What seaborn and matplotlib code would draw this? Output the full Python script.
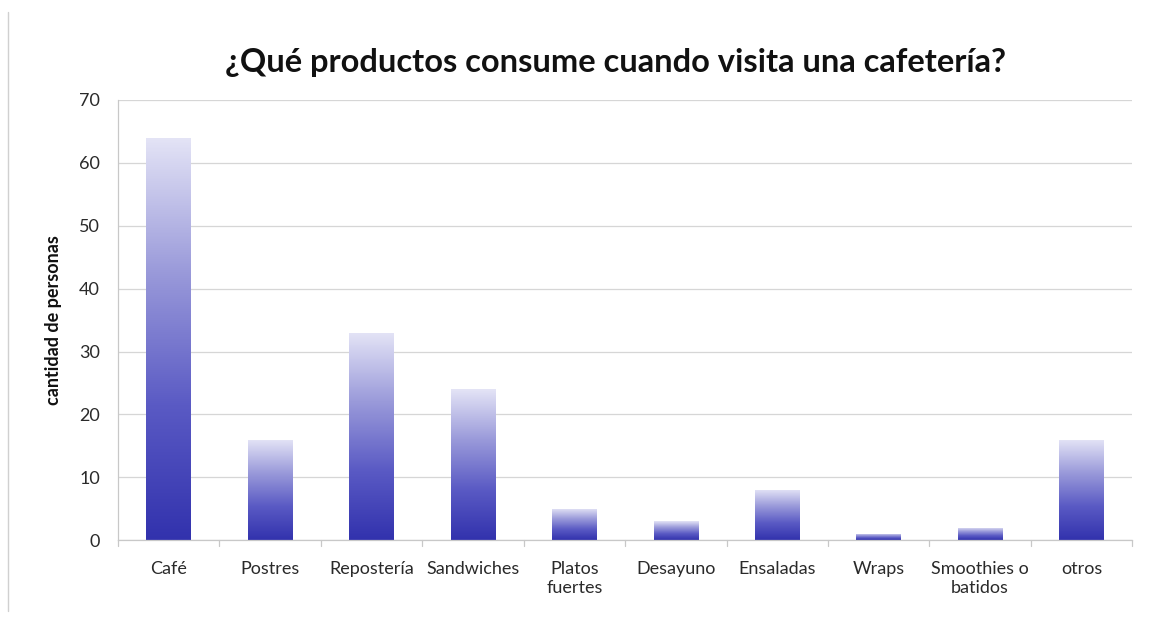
import numpy as np
import pandas as pd
import matplotlib
matplotlib.use("Agg")
import matplotlib.pyplot as plt
from matplotlib.colors import LinearSegmentedColormap
import seaborn as sns

categories = ["Café", "Postres", "Repostería", "Sandwiches", "Platos\nfuertes",
              "Desayuno", "Ensaladas", "Wraps", "Smoothies o\nbatidos", "otros"]
values = [64, 16, 33, 24, 5, 3, 8, 1, 2, 16]
yticks = [0, 10, 20, 30, 40, 50, 60, 70]

df = pd.DataFrame({"producto": categories, "personas": values})

sns.set_theme(style="white")
plt.rcParams["font.family"] = ["Lato", "DejaVu Sans"]

fig = plt.figure(figsize=(11.5, 6.23), dpi=100)
ax = fig.add_axes([0.1026, 0.133, 0.882, 0.7065])

sns.barplot(data=df, x="producto", y="personas", ax=ax, width=0.44,
            color="#5050c0", saturation=1)

ax.set_ylim(0, 70)
ax.set_xlim(-0.5, len(categories) - 0.5)
ax.set_yticks(yticks)
ax.set_yticklabels([str(t) for t in yticks], fontsize=13, color="#2a2a2a")
ax.tick_params(axis="y", length=0, pad=13)
ax.tick_params(axis="x", length=0, pad=15, labelsize=13, labelcolor="#2a2a2a")
for lbl in ax.get_xticklabels():
    lbl.set_linespacing(1.25)
ax.set_xlabel("")
ax.set_ylabel("cantidad de personas", fontsize=13, fontweight="bold",
              color="#111111", labelpad=12)

# light horizontal gridlines
ax.yaxis.grid(True, color="#d6d6d6", linewidth=0.9)
ax.set_axisbelow(True)
for side in ["top", "right"]:
    ax.spines[side].set_visible(False)
for side in ["left", "bottom"]:
    ax.spines[side].set_color("#c8c8c8")
    ax.spines[side].set_linewidth(0.9)

# small tick marks between categories below the x axis
for b in np.arange(-0.5, len(categories), 1.0):
    ax.plot([b, b], [0, -0.9], color="#c8c8c8", lw=0.9, clip_on=False)

# vertical gradient fill for every bar: dark at the base, pale at the top
cmap = LinearSegmentedColormap.from_list(
    "bar_grad", ["#3232ad", "#5a5ac4", "#9a9ada", "#e4e4f6"])
grad = np.linspace(0, 1, 256).reshape(-1, 1)
for patch in ax.patches:
    x0, y0 = patch.get_x(), patch.get_y()
    w, h = patch.get_width(), patch.get_height()
    if h <= 0:
        continue
    patch.set_facecolor("none")
    patch.set_edgecolor("none")
    im = ax.imshow(grad, cmap=cmap, origin="lower", aspect="auto",
                   extent=[x0, x0 + w, y0, y0 + h], zorder=2)
    im.set_clip_path(patch)

ax.set_ylim(0, 70)
ax.set_xlim(-0.5, len(categories) - 0.5)

fig.text(0.535, 0.9, "¿Qué productos consume cuando visita una cafetería?",
         ha="center", va="center", fontsize=23.5, fontweight="bold",
         color="#111111")

# faint frame line on the left edge of the chart area
fig.add_artist(plt.Line2D([0.007, 0.007], [0.02, 0.98], color="#d0d0d0",
                          lw=1.0, transform=fig.transFigure))

fig.savefig("out.png", dpi=100, facecolor="white")
